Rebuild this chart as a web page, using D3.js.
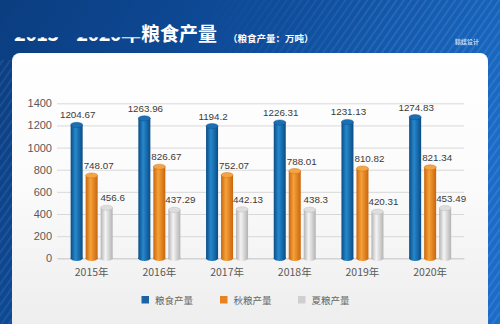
<!DOCTYPE html>
<html>
<head>
<meta charset="utf-8">
<script src="https://cdn.jsdelivr.net/npm/d3@7"></script>
<style>
  html, body { margin: 0; padding: 0; background: #0d4a94; }
  svg { display: block; }
</style>
</head>
<body>
<div id="chart"></div>
<script>
// 2015–2020 grain output (万吨)
const years = ['2015年', '2016年', '2017年', '2018年', '2019年', '2020年'];
const seriesNames = ['粮食产量', '秋粮产量', '夏粮产量'];
const grainTotal = [1204.67, 1263.96, 1194.2, 1226.31, 1231.13, 1274.83];
const autumnGrain = [748.07, 826.67, 752.07, 788.01, 810.82, 821.34];
const summerGrain = [456.6, 437.29, 442.13, 438.3, 420.31, 453.49];
const yTicks = [0, 200, 400, 600, 800, 1000, 1200, 1400];

const seriesValues = [grainTotal, autumnGrain, summerGrain];
const palettes = [
  { edge: '#0a4c86', mid: '#2688cc', cap: '#1b6fb2', key: '#1a64a6' },
  { edge: '#c9650c', mid: '#f6a23a', cap: '#f3a445', key: '#e8841f' },
  { edge: '#b3b3b3', mid: '#f4f4f4', cap: '#dedede', key: '#cfcfcf' }
];
const labelShift = [1, 7, 6];

const W = 500, H = 324;
const svg = d3.select('#chart').append('svg').attr('width', W).attr('height', H);
const defs = svg.append('defs');

// blue backdrop
const bg = defs.append('linearGradient').attr('id', 'bg').attr('x1', 0).attr('y1', 0).attr('x2', 1).attr('y2', 0.4);
bg.append('stop').attr('offset', '0%').attr('stop-color', '#0b3d80');
bg.append('stop').attr('offset', '55%').attr('stop-color', '#0f4f9f');
bg.append('stop').attr('offset', '100%').attr('stop-color', '#1a6cc8');
svg.append('rect').attr('width', W).attr('height', H).attr('fill', 'url(#bg)');

// diagonal stripe texture on the right
const pat = defs.append('pattern').attr('id', 'stripes').attr('width', 6).attr('height', 6)
  .attr('patternUnits', 'userSpaceOnUse').attr('patternTransform', 'rotate(35)');
pat.append('rect').attr('width', 2).attr('height', 6).attr('fill', '#ffffff').attr('opacity', 0.09);
const fade = defs.append('linearGradient').attr('id', 'fade').attr('x1', 0).attr('x2', 1);
fade.append('stop').attr('offset', '0%').attr('stop-color', '#fff').attr('stop-opacity', 0);
fade.append('stop').attr('offset', '60%').attr('stop-color', '#fff').attr('stop-opacity', 1);
fade.append('stop').attr('offset', '100%').attr('stop-color', '#fff').attr('stop-opacity', 1);
const mask = defs.append('mask').attr('id', 'fadeMask');
mask.append('rect').attr('x', 200).attr('width', 300).attr('height', H).attr('fill', 'url(#fade)');
svg.append('rect').attr('x', 200).attr('width', 300).attr('height', H)
  .attr('fill', 'url(#stripes)').attr('mask', 'url(#fadeMask)');
// left-edge streaks
svg.append('rect').attr('x', 0).attr('y', 60).attr('width', 12).attr('height', 264)
  .attr('fill', 'url(#stripes)').attr('opacity', 0.8);

// title (the year span sits partly hidden behind the header band)
defs.append('clipPath').attr('id', 'titleClip')
  .append('rect').attr('x', 0).attr('y', 37.2).attr('width', 141).attr('height', 10);
svg.append('text').attr('x', 14).attr('y', 40.5)
  .attr('clip-path', 'url(#titleClip)')
  .attr('font-family', '"Noto Sans CJK SC", sans-serif').attr('font-weight', 700)
  .attr('font-size', 20).attr('fill', '#fff').attr('textLength', 127)
  .text('2015—2020年');
svg.append('text').attr('x', 141).attr('y', 40.5)
  .attr('font-family', '"Noto Sans CJK SC", sans-serif').attr('font-weight', 700)
  .attr('font-size', 19).attr('fill', '#fff').text('粮食产量');
svg.append('text').attr('x', 228).attr('y', 41.5)
  .attr('font-family', '"Noto Sans CJK SC", sans-serif').attr('font-weight', 700)
  .attr('font-size', 9.5).attr('fill', '#fff').text('（粮食产量：万吨）');
svg.append('text').attr('x', 467).attr('y', 44).attr('text-anchor', 'middle')
  .attr('font-family', '"Noto Sans CJK SC", sans-serif').attr('font-weight', 700)
  .attr('font-size', 6).attr('fill', '#dbe8f8').attr('opacity', 0.85).text('猿媒设计');

// white panel
const pg = defs.append('linearGradient').attr('id', 'panel').attr('x1', 0).attr('y1', 0).attr('x2', 0).attr('y2', 1);
pg.append('stop').attr('offset', '0%').attr('stop-color', '#ffffff');
pg.append('stop').attr('offset', '45%').attr('stop-color', '#fbfbfb');
pg.append('stop').attr('offset', '100%').attr('stop-color', '#ececec');
svg.append('rect').attr('x', 12).attr('y', 53).attr('width', 476).attr('height', 290)
  .attr('rx', 8).attr('fill', 'url(#panel)');

// scales
const x = d3.scaleBand().domain(years).range([57.8, 464]).padding(0);
const xi = d3.scaleBand().domain(seriesNames).range([-22.5, 22.5]).paddingInner(0.2).paddingOuter(0.1);
const y = d3.scaleLinear().domain([0, 1400]).range([258.3, 103.3]);

// grid + y axis
const yAxis = d3.axisLeft(y).tickValues(yTicks).tickSize(-(464 - 57)).tickFormat(d3.format('d')).tickPadding(5);
const gy = svg.append('g').attr('transform', 'translate(57,0)').call(yAxis);
gy.select('.domain').remove();
gy.selectAll('.tick line').attr('stroke', '#d9d9d9').attr('stroke-width', 1);
gy.selectAll('.tick text').attr('font-family', 'Liberation Sans, Arial, sans-serif')
  .attr('font-size', 11).attr('fill', '#595959');

// x axis labels
const xAxis = d3.axisBottom(x).tickSize(0).tickPadding(10);
const gx = svg.append('g').attr('transform', 'translate(0,258.3)').call(xAxis);
gx.select('.domain').attr('stroke', '#cfcfcf');
gx.selectAll('.tick text').attr('font-family', '"Noto Sans CJK SC", sans-serif')
  .attr('font-size', 10.5).attr('fill', '#595959');

// cylinder gradients
palettes.forEach((p, i) => {
  const g = defs.append('linearGradient').attr('id', 'cyl' + i).attr('x1', 0).attr('x2', 1);
  g.append('stop').attr('offset', '0%').attr('stop-color', p.edge);
  g.append('stop').attr('offset', '40%').attr('stop-color', p.mid);
  g.append('stop').attr('offset', '100%').attr('stop-color', p.edge);
});

const bw = xi.bandwidth();
const ry = 2.6;
seriesValues.forEach((vals, si) => {
  const name = seriesNames[si];
  const p = palettes[si];
  const g = svg.append('g');
  const groups = g.selectAll('g').data(vals).join('g')
    .attr('transform', (d, i) => `translate(${x(years[i]) + x.bandwidth() / 2 + xi(name)},0)`);
  // bottom cap
  groups.append('ellipse').attr('cx', bw / 2).attr('cy', y(0)).attr('rx', bw / 2).attr('ry', ry)
    .attr('fill', 'url(#cyl' + si + ')');
  // body
  groups.append('rect').attr('x', 0).attr('y', d => y(d)).attr('width', bw)
    .attr('height', d => y(0) - y(d)).attr('fill', 'url(#cyl' + si + ')');
  // top cap
  groups.append('ellipse').attr('cx', bw / 2).attr('cy', d => y(d)).attr('rx', bw / 2).attr('ry', ry)
    .attr('fill', p.cap).attr('stroke', p.edge).attr('stroke-width', 0.4);
  // value label
  groups.append('text').attr('x', bw / 2 + labelShift[si]).attr('y', d => y(d) - 6.5)
    .attr('text-anchor', 'middle').attr('font-family', 'Liberation Sans, Arial, sans-serif')
    .attr('font-size', 9.8).attr('fill', '#3a3a3a').text(d => d);
});

// legend
const legendX = [141.5, 220, 298];
const lg = svg.append('g').selectAll('g').data(seriesNames).join('g')
  .attr('transform', (d, i) => `translate(${legendX[i]},296)`);
lg.append('rect').attr('width', 7.5).attr('height', 7.5).attr('fill', (d, i) => palettes[i].key);
lg.append('text').attr('x', 13.5).attr('y', 7.5)
  .attr('font-family', '"Noto Sans CJK SC", sans-serif').attr('font-size', 9.5)
  .attr('fill', '#666').text(d => d);
</script>
</body>
</html>
